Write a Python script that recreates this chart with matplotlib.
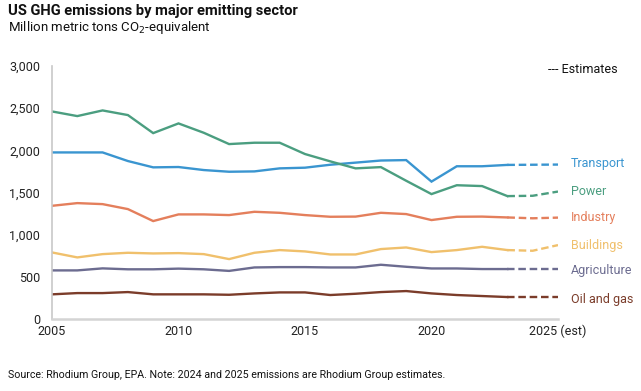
import matplotlib.pyplot as plt
import numpy as np

plt.rcParams['font.family'] = ['Roboto', 'DejaVu Sans']

years = list(range(2005, 2026))
#values, 2024 and 2025 are estimates
transport = [1976, 1976, 1976, 1874, 1799, 1803, 1767, 1747, 1751, 1787, 1795,
             1830, 1855, 1880, 1885, 1630, 1812, 1812, 1828, 1830, 1832]
power = [2462, 2407, 2474, 2419, 2205, 2320, 2209, 2075, 2091, 2091, 1957,
         1870, 1787, 1802, 1640, 1482, 1587, 1577, 1458, 1462, 1512]
industry = [1343, 1375, 1363, 1304, 1162, 1241, 1241, 1233, 1272, 1260, 1233,
            1213, 1215, 1260, 1245, 1174, 1213, 1215, 1205, 1195, 1203]
buildings = [790, 731, 770, 786, 778, 782, 770, 711, 786, 818, 802,
             766, 766, 830, 849, 794, 818, 857, 818, 810, 877]
agriculture = [577, 577, 601, 590, 590, 598, 590, 571, 612, 616, 616,
               612, 612, 644, 620, 600, 600, 593, 593, 593, 593]
oil_gas = [293, 308, 308, 320, 293, 293, 293, 288, 304, 316, 316,
           285, 300, 320, 332, 304, 285, 273, 261, 261, 261]

sectors = ['Transport', 'Power', 'Industry', 'Buildings', 'Agriculture', 'Oil and gas']
series = [transport, power, industry, buildings, agriculture, oil_gas]
colors = ['#3a95d0', '#4b9e80', '#e47f5c', '#f0c06c', '#6c6c90', '#7b3c2a']
label_nudge = [10, 0, 0, -10, -15, -25]

n_actual = 19  # 2005-2023 measured

fig = plt.figure(figsize=(6.41, 3.91), dpi=100)
ax = fig.add_axes([0.0811, 0.184, 0.7894, 0.647])

for name, vals, c, nud in zip(sectors, series, colors, label_nudge):
    ax.plot(years[:n_actual], vals[:n_actual], color=c, lw=1.7,
            solid_joinstyle='miter')
    ax.plot(years[n_actual-1:], vals[n_actual-1:], color=c, lw=1.7,
            dashes=(3.2, 1.6))
    ax.text(2025.5, vals[-1] + nud, name, color=c, fontsize=9, va='center')

ax.set_xlim(2005, 2025)
ax.set_ylim(0, 3000)
ax.set_xticks([2005, 2010, 2015, 2020, 2025])
ax.set_xticklabels(['2005', '2010', '2015', '2020', '2025 (est)'])
ax.set_yticks(np.arange(0, 3001, 500))
ax.set_yticklabels(['0', '500', '1,000', '1,500', '2,000', '2,500', '3,000'])
ax.tick_params(axis='both', length=0, labelsize=9, colors='#222222')
ax.tick_params(axis='y', pad=8.5)
ax.tick_params(axis='x', pad=4)
ax.spines['top'].set_visible(False)
ax.spines['right'].set_visible(False)
ax.spines['left'].set_color('#c8c8c8')
ax.spines['bottom'].set_color('#d4d4d4')
ax.spines['left'].set_linewidth(1.2)
ax.spines['bottom'].set_linewidth(1.8)

fig.text(0.012, 0.971, 'US GHG emissions by major emitting sector',
         fontsize=10.6, fontweight='bold', va='center', color='#111111')
fig.text(0.012, 0.930, 'Million metric tons CO$_2$-equivalent',
         fontsize=9.5, va='center', color='#111111')
fig.text(0.855, 0.823, '--- Estimates', fontsize=9, va='center', color='#111111')
fig.text(0.012, 0.040,
         'Source: Rhodium Group, EPA. Note: 2024 and 2025 emissions are Rhodium Group estimates.',
         fontsize=7.7, va='center', color='#111111')

fig.savefig('out.png', dpi=100)
